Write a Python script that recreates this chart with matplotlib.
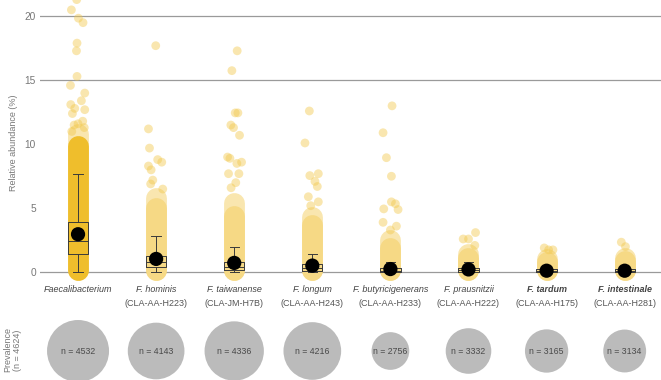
import numpy as np
import matplotlib
matplotlib.use("Agg")
import matplotlib.pyplot as plt

plt.rcParams['font.family'] = ['Liberation Sans', 'DejaVu Sans']

# ---------------- data ----------------
species = ["Faecalibacterium", "F. hominis", "F. taiwanense", "F. longum",
           "F. butyricigenerans", "F. prausnitzii", "F. tardum", "F. intestinale"]
strains = ["", "(CLA-AA-H223)", "(CLA-JM-H7B)", "(CLA-AA-H243)",
           "(CLA-AA-H233)", "(CLA-AA-H222)", "(CLA-AA-H175)", "(CLA-AA-H281)"]
bold_species = [False, False, False, False, False, False, True, True]
prevalence_n = [4532, 4143, 4336, 4216, 2756, 3332, 3165, 3134]
total_n = 4624

# solid (dense) part and fainter fringe of each jittered cloud (%)
dense_top = [9.9, 5.0, 4.4, 3.7, 1.9, 1.1, 0.8, 0.9]
fringe_top = [10.8, 5.8, 5.4, 4.3, 2.5, 1.4, 1.0, 1.1]

# box statistics (%)
mean_vals = [2.97, 1.04, 0.73, 0.52, 0.25, 0.22, 0.12, 0.12]
q1_vals   = [1.43, 0.44, 0.18, 0.10, 0.03, 0.05, 0.02, 0.02]
med_vals  = [2.45, 0.83, 0.44, 0.30, 0.12, 0.15, 0.07, 0.07]
q3_vals   = [3.95, 1.30, 0.83, 0.62, 0.35, 0.35, 0.22, 0.22]
whislo    = [0.0, 0.0, 0.0, 0.0, 0.0, 0.0, 0.0, 0.0]
whishi    = [7.7, 2.8, 1.95, 1.4, 0.8, 0.8, 0.5, 0.5]

# individually visible points above the dense column (%), with their jitter
outlier_vals = [
    [21.3, 20.5, 19.85, 19.5, 17.9, 17.3, 15.3, 14.6, 14.0, 13.4, 13.1, 12.8, 12.7, 12.4,
     11.8, 11.6, 11.5, 11.3, 11.0],
    [17.7, 11.2, 9.7, 8.8, 8.6, 8.3, 8.0, 7.2, 6.9, 6.5],
    [17.3, 15.75, 12.45, 12.45, 11.5, 11.3, 10.7, 9.0, 8.9, 8.5, 8.6, 7.7, 7.7, 7.0, 6.6],
    [12.6, 10.1, 7.55, 7.7, 7.1, 6.7, 5.9, 5.5, 5.2],
    [13.0, 10.9, 8.95, 7.5, 5.5, 5.35, 4.95, 4.9, 3.9, 3.6, 3.3],
    [3.1, 2.6, 2.6, 2.1],
    [1.9, 1.75, 1.75],
    [2.35, 2.0],
]
outlier_jit = [
    [-0.017, -0.085, 0.005, 0.064, -0.013, -0.02, -0.013, -0.097, 0.086, 0.043, -0.093,
     -0.042, 0.086, -0.072, 0.06, 0.0, -0.05, 0.08, -0.08],
    [-0.005, -0.098, -0.085, 0.02, 0.072, -0.098, -0.064, -0.043, -0.07, 0.085],
    [0.038, -0.03, 0.013, 0.047, -0.043, -0.009, 0.068, -0.085, -0.055, 0.034, 0.094,
     -0.073, 0.06, 0.02, -0.04],
    [-0.038, -0.094, -0.032, 0.077, 0.034, 0.064, -0.051, 0.077, -0.02],
    [0.021, -0.094, -0.051, 0.013, 0.013, 0.064, -0.085, 0.098, -0.094, 0.077, 0.0],
    [0.09, -0.068, 0.0, 0.081],
    [-0.03, 0.026, 0.081],
    [-0.043, 0.01],
]

# ---------------- styles ----------------
GOLD_DARK = '#EFBE2C'
GOLD_LIGHT = '#F6D985'
PT_COLOR = '#F2C94E'

W, H = 661, 380
fig = plt.figure(figsize=(W / 100, H / 100), dpi=100)

ax = fig.add_axes([40 / W, 97 / H, 621 / W, 283 / H])
x = np.arange(len(species))
ax.set_xlim(-0.487, 7.465)
ax.set_ylim(-0.84, 21.27)

for v in [0, 15, 20]:
    ax.axhline(v, color='#9a9a9a', lw=0.9, zorder=0)

# fringe + dense columns
for i in range(len(species)):
    col = GOLD_DARK if i == 0 else GOLD_LIGHT
    ax.plot([x[i], x[i]], [0.15, fringe_top[i]], color=PT_COLOR, alpha=0.45, lw=15.0,
            solid_capstyle='round', zorder=1)
    ax.plot([x[i], x[i]], [0.15, dense_top[i]], color=col, lw=15.0,
            solid_capstyle='round', zorder=1)

# visible individual points
for i in range(len(species)):
    vals = np.array(outlier_vals[i])
    jit = np.array(outlier_jit[i])
    ax.scatter(x[i] + jit, vals, s=40, color=PT_COLOR, alpha=0.45,
               edgecolors='none', zorder=2)

# box plots
stats = []
for i in range(len(species)):
    stats.append(dict(med=med_vals[i], q1=q1_vals[i], q3=q3_vals[i],
                      whislo=whislo[i], whishi=whishi[i], fliers=[]))
ax.bxp(stats, positions=x, widths=0.26, showfliers=False, manage_ticks=False,
       capwidths=0.12,
       boxprops=dict(color='#3a3a3a', lw=0.7),
       whiskerprops=dict(color='#3a3a3a', lw=0.7),
       capprops=dict(color='#3a3a3a', lw=0.7),
       medianprops=dict(color='#3a3a3a', lw=0.7), zorder=3)

ax.scatter(x, mean_vals, s=105, color='black', zorder=5, edgecolors='none')

ax.set_yticks([0, 5, 10, 15, 20])
ax.set_xticks([])
ax.tick_params(axis='y', length=0, pad=3, labelsize=7.3, labelcolor='#777777')
for s in ax.spines.values():
    s.set_visible(False)

fig.text(14 / W, 1 - 143 / H, "Relative abundance (%)", rotation=90,
         ha='center', va='center', fontsize=6.5, color='#777777')

# ---------------- prevalence panel ----------------
ax2 = fig.add_axes([40 / W, 0, 621 / W, 97 / H])
ax2.set_xlim(-0.487, 7.465)
ax2.set_ylim(-29, 68)
ax2.axis('off')

diam_pt = np.array(prevalence_n) / prevalence_n[0] * 62 * 0.72
ax2.scatter(x, np.zeros(len(x)), s=diam_pt ** 2, color='#bbbbbb',
            edgecolors='none', clip_on=False)
for i, n in enumerate(prevalence_n):
    ax2.text(x[i], 0, f"n = {n}", ha='center', va='center', fontsize=6.3,
             color='#4a4a4a')

for i in range(len(species)):
    ax2.text(x[i], 61, species[i], ha='center', va='center', fontsize=6.5,
             style='italic', color='#444444',
             fontweight='bold' if bold_species[i] else 'normal')
    if strains[i]:
        ax2.text(x[i], 48, strains[i], ha='center', va='center', fontsize=6.5,
                 color='#555555')

fig.text(12.5 / W, 30 / H, f"Prevalence\n(n = {total_n})", rotation=90,
         ha='center', va='center', fontsize=6.5, color='#777777',
         multialignment='center', linespacing=1.15)

fig.savefig("out.png", dpi=100)
